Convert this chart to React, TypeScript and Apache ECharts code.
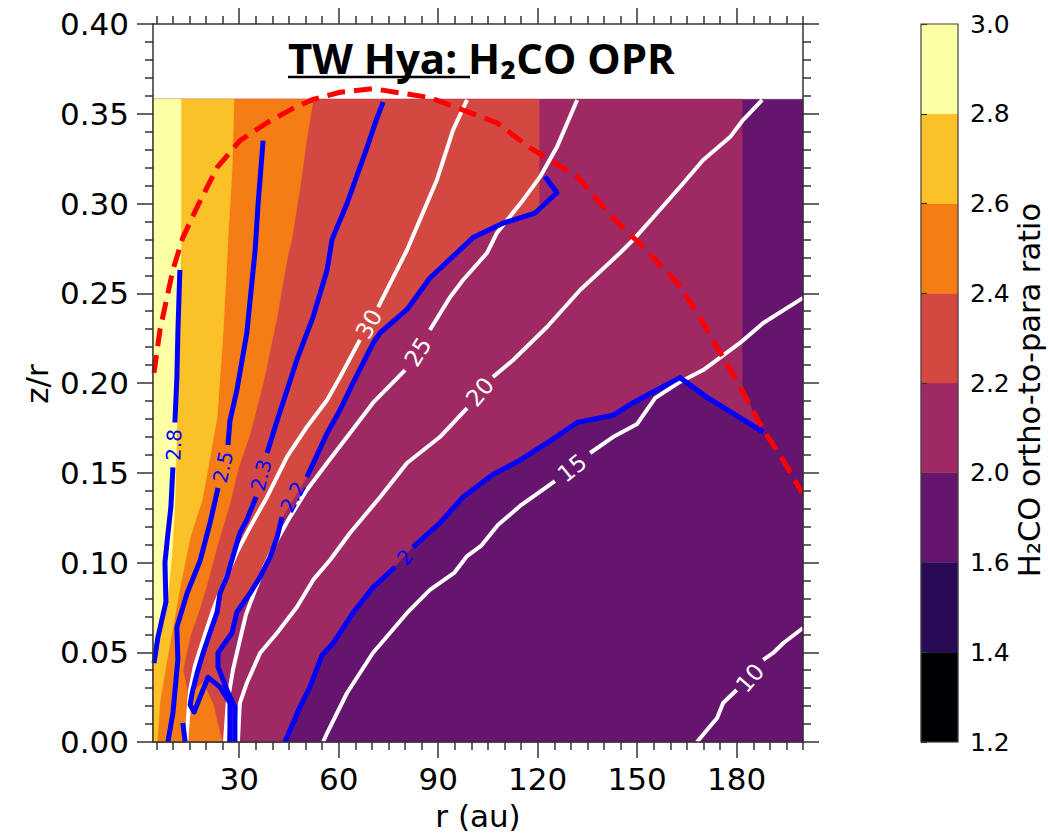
import React, { useEffect, useRef } from "react";
import * as echarts from "echarts";

// ---------- axis ranges & ticks ----------
const R_MIN = 4;
const R_MAX = 200;
const Z_MIN = 0;
const Z_MAX = 0.4;
const Z_TOP = 0.358; // top of the model grid

const xMajorTicks = [30, 60, 90, 120, 150, 180];
const xMinorTicks = [5, 10, 15, 20, 25, 35, 40, 45, 50, 55, 65, 70, 75, 80, 85, 95, 100, 105, 110, 115, 125, 130, 135, 140, 145, 155, 160, 165, 170, 175, 185, 190, 195, 200];

// ---------- colour bar ----------
const cbLevels = ["1.2", "1.4", "1.6", "2.0", "2.2", "2.4", "2.6", "2.8", "3.0"];
const cbColors = ["#000004", "#280b54", "#65156e", "#9f2a63", "#d44842", "#f57d15", "#fac228", "#fcffa4"];

// ---------- filled-contour boundaries (r [au], z/r), top to bottom ----------
const fill20 = [[181.6, 0.358], [181.6, 0.199], [184.6, 0.185], [187.0, 0.174], [171.1, 0.192], [162.9, 0.203], [154.8, 0.195], [148.8, 0.189], [142.7, 0.182], [131.9, 0.178], [122.8, 0.167], [114.7, 0.157], [106.5, 0.149], [97.5, 0.137], [90.5, 0.122], [82.4, 0.109], [77.0, 0.098], [70.3, 0.086], [64.3, 0.072], [58.3, 0.055], [55.0, 0.049], [51.3, 0.031], [48.3, 0.020], [43.8, 0]];
const fill22 = [[120.4, 0.358], [120.4, 0.296], [109.5, 0.289], [100.5, 0.281], [87.5, 0.259], [80.6, 0.241], [72.5, 0.228], [70.3, 0.222], [64.3, 0.200], [60.4, 0.185], [56.5, 0.172], [50.4, 0.148], [46.8, 0.137], [42.9, 0.125], [41.4, 0.114], [39.3, 0.103], [36.3, 0.092], [33.3, 0.083], [29.3, 0.072], [27.8, 0.061], [24.8, 0.053], [23.6, 0.046], [26.3, 0.029], [28.7, 0.020], [29.0, 0]];
const fill24 = [[52.3, 0.358], [50.4, 0.337], [48.3, 0.309], [45.9, 0.281], [44.4, 0.269], [41.4, 0.237], [37.2, 0.200], [33.3, 0.172], [29.6, 0.152], [27.2, 0.133], [23.3, 0.109], [20.6, 0.090], [18.2, 0.075], [15.2, 0.059], [13.0, 0.040], [14.6, 0.026], [19.1, 0.033], [22.1, 0.021], [24.8, 0]];
const fill26 = [[28.4, 0.358], [27.8, 0.319], [26.6, 0.281], [25.1, 0.228], [23.3, 0.181], [20.6, 0.153], [18.8, 0.135], [15.2, 0.114], [12.1, 0.086], [10.0, 0.064], [8.2, 0.046], [6.1, 0.023], [5.2, 0]];
const fill28 = [[12.4, 0.358], [12.4, 0.274], [11.8, 0.228], [11.2, 0.181], [10.6, 0.135], [9.7, 0.105], [8.2, 0.077], [6.1, 0.059], [4.0, 0.045]];

// ---------- OPR contour lines (blue) ----------
const opr28a = [[4.3, 0.044], [5.5, 0.0585], [7.9, 0.078], [7.6, 0.100], [8.5, 0.116], [9.4, 0.131], [10.0, 0.153]];
const opr28b = [[10.6, 0.178], [11.2, 0.203], [11.5, 0.228], [12.1, 0.263]];
const opr25a = [[8.5, 0], [10.0, 0.016], [11.5, 0.046], [11.2, 0.064], [14.3, 0.083], [18.2, 0.101], [21.2, 0.122], [23.6, 0.1415]];
const opr25b = [[26.6, 0.1655], [27.2, 0.179], [29.3, 0.196], [32.3, 0.228], [34.8, 0.274], [35.7, 0.300], [37.2, 0.335]];
const opr25c = [[13.0, 0.0106], [13.7, 0]];
const opr23a = [[27.2, 0], [27.2, 0.0217], [24.2, 0.0306], [20.6, 0.036], [18.2, 0.025], [16.4, 0.0167], [15.2, 0.0206], [15.8, 0.0273], [17.3, 0.0384], [19.1, 0.0496], [21.2, 0.061], [23.3, 0.072], [24.2, 0.083], [26.3, 0.092], [27.8, 0.1014], [30.2, 0.1164], [32.3, 0.1237], [35.1, 0.1365]];
const opr23b = [[38.4, 0.161], [41.4, 0.179], [43.2, 0.189], [47.4, 0.213], [52.3, 0.237], [56.5, 0.263], [58.0, 0.280], [62.5, 0.300], [68.5, 0.331], [71.6, 0.348], [73.4, 0.3565]];
const opr22a = [[28.7, 0], [28.7, 0.0195], [26.3, 0.029], [23.6, 0.0418], [23.6, 0.0496], [24.8, 0.0529], [27.8, 0.0607], [29.3, 0.0724], [33.3, 0.083], [36.3, 0.092], [39.3, 0.103], [41.4, 0.114], [42.9, 0.1253]];
const opr22b = [[50.4, 0.1476], [56.5, 0.172], [60.4, 0.185], [64.3, 0.200], [70.3, 0.222], [72.5, 0.228], [80.6, 0.241], [87.5, 0.2585], [100.5, 0.281], [109.5, 0.289], [119.2, 0.2947], [125.8, 0.306], [122.2, 0.315]];
const opr20a = [[43.8, 0], [48.3, 0.0195], [51.3, 0.0306], [55.0, 0.0485], [58.3, 0.055], [64.3, 0.072], [70.3, 0.086], [77.0, 0.0975]];
const opr20b = [[82.4, 0.1086], [90.5, 0.122], [97.5, 0.1365], [106.5, 0.149], [114.7, 0.157], [122.8, 0.1666], [131.9, 0.178], [142.7, 0.182], [148.8, 0.189], [154.8, 0.195], [162.9, 0.203], [171.1, 0.192], [188.0, 0.1727]];

// ---------- temperature contours (white, K) ----------
const t30a = [[98.7, 0.3577], [94.5, 0.341], [89.6, 0.3131], [80.6, 0.2741], [71.9, 0.2423]];
const t30b = [[66.4, 0.224], [60.4, 0.2033], [56.5, 0.1905], [50.4, 0.1755], [44.4, 0.1588], [38.4, 0.1365], [33.3, 0.1198], [29.3, 0.1058], [25.7, 0.0903], [22.1, 0.0735], [19.1, 0.0568], [16.7, 0.0429], [15.2, 0.029], [14.0, 0]];
const t25a = [[131.9, 0.3577], [125.8, 0.3315], [120.7, 0.3148], [115.6, 0.302], [107.7, 0.2836], [104.7, 0.2724], [97.5, 0.2574], [93.6, 0.2479], [87.5, 0.2295]];
const t25b = [[80.0, 0.2072], [70.3, 0.1889], [62.5, 0.1699], [56.5, 0.1554], [50.4, 0.1404], [45.3, 0.1253], [41.4, 0.1125], [37.8, 0.0986], [34.8, 0.0847], [32.0, 0.0708], [30.2, 0.0568], [28.1, 0.0401], [26.6, 0.0234], [25.7, 0]];
const t20a = [[187.7, 0.3577], [181.9, 0.3465], [178.0, 0.337], [169.9, 0.3242], [162.9, 0.3092], [156.0, 0.2947], [148.8, 0.2797], [144.8, 0.2724], [132.8, 0.2518], [122.8, 0.2312], [112.6, 0.2128], [106.5, 0.2033]];
const t20b = [[98.7, 0.186], [90.5, 0.1699], [80.6, 0.1554], [72.5, 0.1365], [63.4, 0.1164], [57.4, 0.1014], [52.3, 0.0903], [47.4, 0.0752], [41.4, 0.0607], [36.3, 0.0496], [32.3, 0.0329], [30.2, 0.0217], [29.6, 0]];
const t15a = [[200, 0.2474], [188, 0.2334], [181, 0.2223], [169.9, 0.2072], [162.9, 0.2006], [155.4, 0.1916], [150.0, 0.1772], [142.7, 0.1699], [135.8, 0.161]];
const t15b = [[125.2, 0.1454], [115.0, 0.132], [108.0, 0.1209], [102.9, 0.1092], [98.7, 0.1036], [94.8, 0.0942], [87.5, 0.0847], [80.6, 0.0719], [70.3, 0.0496], [62.5, 0.0273], [56.5, 0.005], [55.3, 0]];
const t10a = [[200, 0.0635], [194, 0.055], [191, 0.0496], [188, 0.0457]];
const t10b = [[180, 0.029], [175.9, 0.0217], [174.1, 0.0134], [168, 0]];

// ---------- boundary (red dashed) ----------
const redBoundary = [[4.3, 0.2056], [6.1, 0.2295], [10.0, 0.263], [13.0, 0.281], [17.3, 0.298], [23.3, 0.320], [30.2, 0.335], [38.4, 0.345], [46.2, 0.353], [52.3, 0.358], [60.4, 0.362], [70.3, 0.364], [87.5, 0.359], [97.5, 0.352], [107.7, 0.345], [117.7, 0.331], [131.9, 0.315], [142.7, 0.292], [150.0, 0.279], [162.0, 0.256], [168.1, 0.239], [175.0, 0.217], [181.0, 0.198], [188.0, 0.174], [194.0, 0.157], [199.7, 0.139]];

// ---------- contour labels ----------
const labelText = ["2.8", "2.5", "2.3", "2.2", "2", "30", "25", "20", "15", "10"];
const labelR = [10.3, 25.1, 36.6, 46.2, 80.0, 69.1, 83.9, 102.6, 130.4, 184.0];
const labelZ = [0.1655, 0.1532, 0.1487, 0.1365, 0.103, 0.2329, 0.2173, 0.195, 0.1526, 0.0357];
const labelAngle = [88, 77, 76, 62, 48, 61, 58, 50, 39, 49];
const labelIsOpr = [true, true, true, true, true, false, false, false, false, false];

const BLUE = "#0000ff";
const WHITE = "#ffffff";
const AXIS = "#333333";

function fillSeries(points: number[][], color: string, z: number) {
  return {
    type: "custom",
    xAxisIndex: 0,
    yAxisIndex: 0,
    data: [[R_MIN, Z_MIN]],
    silent: true,
    z,
    renderItem: (_p: any, api: any) => ({
      type: "polygon",
      shape: { points: points.map((p) => api.coord(p)) },
      style: { fill: color, stroke: color, lineWidth: 0.8 },
    }),
  };
}

function lineSeries(data: number[][], color: string, width: number, dashed = false) {
  return {
    type: "line",
    xAxisIndex: 0,
    yAxisIndex: 0,
    data,
    showSymbol: false,
    symbol: "none",
    silent: true,
    z: 5,
    lineStyle: { color, width, type: dashed ? [18, 9] : "solid", cap: "butt", join: "round" },
  };
}

export default function App() {
  const ref = useRef<HTMLDivElement>(null);
  useEffect(() => {
    document.body.style.margin = "0";
    if (!ref.current) return;
    const chart = echarts.init(ref.current, null, { renderer: "svg" });

    const basePoly = [[R_MIN, Z_MIN], [R_MIN, Z_TOP], [R_MAX, Z_TOP], [R_MAX, Z_MIN]];
    const closeBottom = (b: number[][]) => [[R_MIN, Z_TOP], ...b, [R_MIN, Z_MIN]];
    const closeLeft = (b: number[][]) => [[R_MIN, Z_TOP], ...b];

    const tickStyle = { color: AXIS, width: 1.5 };
    const font = "DejaVu Sans";

    const option: any = {
      animation: false,
      backgroundColor: "#ffffff",
      grid: [
        { left: 153, top: 24, width: 650, height: 718, containLabel: false },
        { left: 921, top: 24, width: 37, height: 718, containLabel: false },
      ],
      xAxis: [
        {
          gridIndex: 0, type: "value", min: R_MIN, max: R_MAX, position: "bottom", z: 10,
          axisLine: { show: true, onZero: false, lineStyle: tickStyle },
          axisTick: { show: true, customValues: xMajorTicks, length: 16, inside: false, lineStyle: tickStyle },
          axisLabel: { show: true, customValues: xMajorTicks, fontSize: 31, fontFamily: font, color: "#000", margin: 21 },
          splitLine: { show: false },
        },
        {
          gridIndex: 0, type: "value", min: R_MIN, max: R_MAX, position: "bottom", z: 10,
          axisLine: { show: false, onZero: false },
          axisTick: { show: true, customValues: xMinorTicks, length: 8, lineStyle: tickStyle },
          axisLabel: { show: false },
          splitLine: { show: false },
        },
        {
          gridIndex: 0, type: "value", min: R_MIN, max: R_MAX, position: "top", z: 10,
          axisLine: { show: true, onZero: false, lineStyle: tickStyle },
          axisTick: { show: true, customValues: xMajorTicks, length: 16, lineStyle: tickStyle },
          axisLabel: { show: false },
          splitLine: { show: false },
        },
        {
          gridIndex: 0, type: "value", min: R_MIN, max: R_MAX, position: "top", z: 10,
          axisLine: { show: false, onZero: false },
          axisTick: { show: true, customValues: xMinorTicks, length: 8, lineStyle: tickStyle },
          axisLabel: { show: false },
          splitLine: { show: false },
        },
        { gridIndex: 1, type: "value", min: 0, max: 1, show: false },
      ],
      yAxis: [
        {
          gridIndex: 0, type: "value", min: Z_MIN, max: Z_MAX, interval: 0.05, position: "left", z: 10,
          axisLine: { show: true, onZero: false, lineStyle: tickStyle },
          axisTick: { show: true, length: 16, lineStyle: tickStyle },
          minorTick: { show: true, splitNumber: 5, length: 8, lineStyle: tickStyle },
          axisLabel: { show: true, fontSize: 31, fontFamily: font, color: "#000", margin: 24, formatter: (v: number) => v.toFixed(2) },
          splitLine: { show: false },
          minorSplitLine: { show: false },
        },
        {
          gridIndex: 0, type: "value", min: Z_MIN, max: Z_MAX, interval: 0.05, position: "right", z: 10,
          axisLine: { show: true, onZero: false, lineStyle: tickStyle },
          axisTick: { show: true, length: 16, lineStyle: tickStyle },
          minorTick: { show: true, splitNumber: 5, length: 8, lineStyle: tickStyle },
          axisLabel: { show: false },
          splitLine: { show: false },
          minorSplitLine: { show: false },
        },
        {
          gridIndex: 1, type: "value", min: 0, max: 8, interval: 1, position: "right", z: 10,
          axisLine: { show: false },
          axisTick: { show: true, length: 6, lineStyle: { color: AXIS, width: 1.2 } },
          axisLabel: { show: true, fontSize: 25, fontFamily: font, color: "#000", margin: 12, formatter: (v: number) => cbLevels[Math.round(v)] },
          splitLine: { show: false },
        },
      ],
      series: [
        fillSeries(basePoly, cbColors[2], 1),
        fillSeries(closeBottom(fill20), cbColors[3], 1),
        fillSeries(closeBottom(fill22), cbColors[4], 1),
        fillSeries(closeBottom(fill24), cbColors[5], 1),
        fillSeries(closeBottom(fill26), cbColors[6], 1),
        fillSeries(closeLeft(fill28), cbColors[7], 1),
        ...[t30a, t30b, t25a, t25b, t20a, t20b, t15a, t15b, t10a, t10b].map((d) => lineSeries(d, WHITE, 4)),
        ...[opr28a, opr28b, opr25a, opr25b, opr25c, opr23a, opr23b, opr22a, opr22b, opr20a, opr20b].map((d) => lineSeries(d, BLUE, 5)),
        lineSeries(redBoundary, "#ff0000", 5, true),
        {
          type: "custom",
          xAxisIndex: 0,
          yAxisIndex: 0,
          silent: true,
          z: 6,
          data: labelR.map((r, i) => [r, labelZ[i]]),
          renderItem: (params: any, api: any) => {
            const i = params.dataIndex;
            const p = api.coord([labelR[i], labelZ[i]]);
            const opr = labelIsOpr[i];
            return {
              type: "text",
              x: p[0],
              y: p[1],
              rotation: (labelAngle[i] * Math.PI) / 180,
              style: {
                text: labelText[i],
                fill: opr ? BLUE : WHITE,
                font: `${opr ? 20 : 23}px 'DejaVu Sans'`,
                textAlign: "center",
                textVerticalAlign: "middle",
              },
            };
          },
        },
        {
          type: "custom",
          xAxisIndex: 4,
          yAxisIndex: 2,
          silent: true,
          data: cbColors.map((_c, i) => [0, i]),
          renderItem: (params: any, api: any) => {
            const i = params.dataIndex;
            const p0 = api.coord([0, i]);
            const p1 = api.coord([1, i + 1]);
            return {
              type: "rect",
              shape: { x: p0[0], y: p1[1], width: p1[0] - p0[0], height: p0[1] - p1[1] },
              style: { fill: cbColors[i], stroke: cbColors[i], lineWidth: 0.5 },
            };
          },
        },
      ],
      graphic: [
        { type: "rect", shape: { x: 921, y: 24, width: 37, height: 718 }, style: { fill: "none", stroke: "#444", lineWidth: 1.2 }, z: 100 },
        {
          type: "text", x: 288, y: 57, z: 100,
          style: { text: "TW Hya: H\u2082CO OPR", font: "bold 42px 'Open Sans'", fill: "#000", textAlign: "left", textVerticalAlign: "middle" },
        },
        { type: "line", shape: { x1: 288, y1: 77, x2: 470, y2: 77 }, style: { stroke: "#000", lineWidth: 2.5 }, z: 100 },
        {
          type: "text", x: 478, y: 816, z: 100,
          style: { text: "r (au)", font: "31px 'DejaVu Sans'", fill: "#000", textAlign: "center", textVerticalAlign: "middle" },
        },
        {
          type: "text", x: 37, y: 384, rotation: Math.PI / 2, z: 100,
          style: { text: "z/r", font: "31px 'DejaVu Sans'", fill: "#000", textAlign: "center", textVerticalAlign: "middle" },
        },
        {
          type: "text", x: 1029, y: 390, rotation: Math.PI / 2, z: 100,
          style: { text: "H\u2082CO ortho-to-para ratio", font: "30.5px 'DejaVu Sans'", fill: "#000", textAlign: "center", textVerticalAlign: "middle" },
        },
      ],
    };

    chart.setOption(option);
    return () => chart.dispose();
  }, []);

  return <div ref={ref} style={{ position: "absolute", left: 0, top: 0, width: 1048, height: 833 }} />;
}
